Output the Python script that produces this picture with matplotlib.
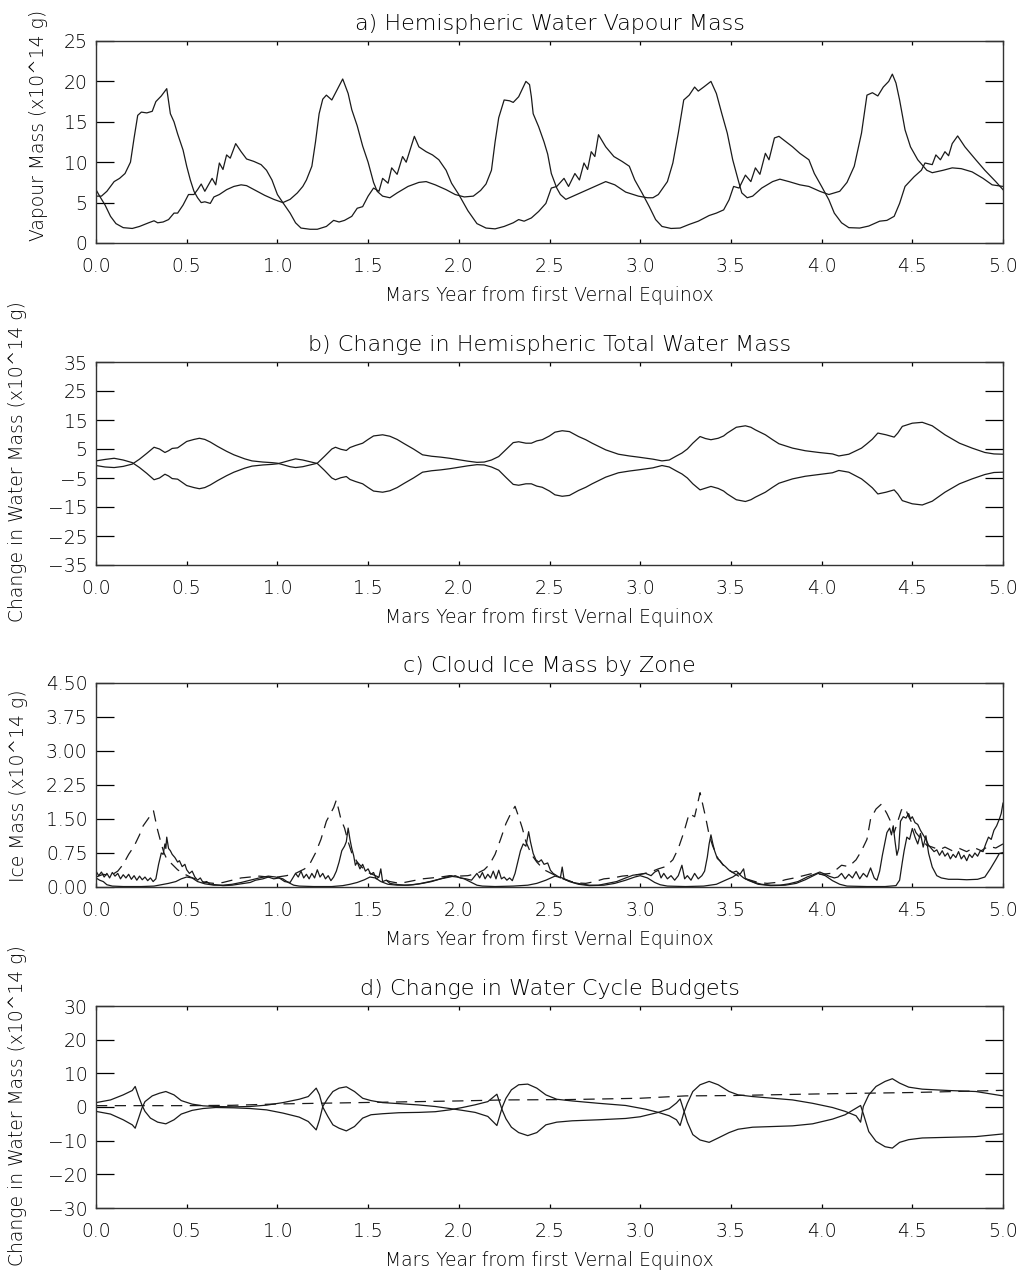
import numpy as np
import matplotlib.pyplot as plt

# ---- panel a: hemispheric water vapour mass (x10^14 g)
a_north_t = [0.00, 0.03, 0.06, 0.10, 0.13, 0.16, 0.19, 0.21, 0.23, 0.25, 0.28, 0.31, 0.33, 0.36, 0.39,
             0.41, 0.43, 0.45, 0.48, 0.50, 0.52, 0.54, 0.56, 0.58, 0.60, 0.63, 0.65, 0.68, 0.72, 0.76,
             0.80, 0.83, 0.88, 0.93, 0.98, 1.03, 1.07, 1.11, 1.14, 1.16, 1.19, 1.21, 1.23, 1.25, 1.27,
             1.30, 1.33, 1.36, 1.39, 1.41, 1.44, 1.47, 1.50, 1.53, 1.55, 1.58, 1.62, 1.66, 1.72, 1.78,
             1.82, 1.87, 1.93, 1.98, 2.03, 2.08, 2.12, 2.15, 2.18, 2.20, 2.22, 2.25, 2.28, 2.30, 2.33,
             2.37, 2.39, 2.40, 2.41, 2.44, 2.47, 2.49, 2.51, 2.54, 2.56, 2.59, 2.63, 2.68, 2.75, 2.81,
             2.86, 2.92, 2.99, 3.04, 3.07, 3.10, 3.15, 3.18, 3.21, 3.24, 3.27, 3.30, 3.32, 3.35, 3.39,
             3.42, 3.45, 3.48, 3.51, 3.54, 3.56, 3.59, 3.62, 3.67, 3.73, 3.77, 3.82, 3.88, 3.93, 3.99,
             4.04, 4.10, 4.14, 4.18, 4.22, 4.25, 4.28, 4.31, 4.34, 4.37, 4.39, 4.41, 4.43, 4.46, 4.49,
             4.53, 4.58, 4.61, 4.67, 4.72, 4.77, 4.83, 4.89, 4.94, 5.00]
a_north_v = [5.8, 5.8, 6.4, 7.6, 8.0, 8.6, 10.0, 13.0, 15.8, 16.2, 16.1, 16.3, 17.5, 18.2, 19.1,
             16.0, 15.0, 13.5, 11.5, 9.5, 7.8, 6.4, 5.6, 5.0, 5.1, 4.9, 5.7, 6.0, 6.6, 7.0,
             7.2, 7.1, 6.5, 5.9, 5.4, 5.0, 5.4, 6.2, 7.0, 7.8, 9.5, 12.5, 16.0, 17.8, 18.3,
             17.7, 19.0, 20.3, 18.5, 16.5, 14.5, 12.0, 10.0, 7.5, 6.4, 5.8, 5.6, 6.2, 7.0, 7.5,
             7.6, 7.2, 6.6, 6.0, 5.7, 5.8, 6.5, 7.3, 9.0, 12.5, 15.5, 17.7, 17.6, 17.4, 18.1,
             20.0, 19.6, 18.1, 16.0, 14.4, 12.5, 11.0, 8.6, 6.8, 6.0, 5.4, 5.8, 6.3, 7.0, 7.6,
             7.2, 6.3, 5.8, 5.6, 5.6, 6.0, 7.6, 9.9, 13.6, 17.7, 18.3, 19.3, 18.8, 19.3, 20.0,
             18.5, 16.0, 13.6, 10.3, 7.8, 6.2, 5.6, 5.8, 6.8, 7.6, 7.9, 7.6, 7.2, 7.0, 6.4,
             6.0, 6.4, 7.5, 9.5, 13.6, 18.3, 18.6, 18.2, 19.3, 20.0, 20.9, 19.8, 17.7, 14.0, 11.9,
             10.3, 9.0, 8.7, 9.0, 9.3, 9.2, 8.8, 8.0, 7.2, 7.0]

a_south_t = [0.00, 0.02, 0.05, 0.08, 0.11, 0.15, 0.20, 0.24, 0.29, 0.32, 0.34, 0.37, 0.40, 0.43, 0.45,
             0.48, 0.51, 0.54, 0.56, 0.58, 0.60, 0.64, 0.66, 0.68, 0.70, 0.72, 0.74, 0.77, 0.80, 0.83,
             0.87, 0.91, 0.94, 0.97, 1.00, 1.03, 1.07, 1.10, 1.13, 1.18, 1.22, 1.27, 1.31, 1.34, 1.37,
             1.41, 1.44, 1.47, 1.50, 1.53, 1.56, 1.58, 1.61, 1.63, 1.66, 1.69, 1.71, 1.755, 1.78, 1.82,
             1.855, 1.89, 1.93, 1.96, 2.00, 2.05, 2.10, 2.15, 2.20, 2.25, 2.30, 2.33, 2.36, 2.40, 2.44,
             2.48, 2.51, 2.54, 2.58, 2.605, 2.64, 2.665, 2.69, 2.71, 2.73, 2.75, 2.77, 2.81, 2.855, 2.90,
             2.94, 2.97, 3.01, 3.05, 3.085, 3.12, 3.17, 3.22, 3.27, 3.32, 3.38, 3.42, 3.46, 3.49, 3.515,
             3.545, 3.58, 3.61, 3.635, 3.66, 3.69, 3.71, 3.74, 3.765, 3.80, 3.84, 3.88, 3.93, 3.96, 4.00,
             4.04, 4.07, 4.11, 4.15, 4.21, 4.26, 4.32, 4.36, 4.40, 4.43, 4.46, 4.51, 4.55, 4.57, 4.61,
             4.63, 4.655, 4.68, 4.70, 4.72, 4.75, 4.79, 4.85, 4.90, 4.96, 5.00]
a_south_v = [6.6, 5.8, 4.7, 3.3, 2.4, 1.9, 1.8, 2.05, 2.5, 2.75, 2.5, 2.6, 2.9, 3.7, 3.7,
             4.7, 6.0, 6.0, 6.6, 7.3, 6.4, 8.0, 7.2, 9.9, 9.1, 10.9, 10.5, 12.3, 11.3, 10.4,
             10.1, 9.7, 9.0, 7.8, 6.0, 5.0, 3.7, 2.5, 1.85, 1.7, 1.7, 2.05, 2.8, 2.6, 2.8,
             3.3, 4.3, 4.5, 5.8, 6.8, 6.4, 8.0, 7.4, 9.3, 8.5, 10.7, 10.0, 13.2, 11.9, 11.3,
             10.9, 10.3, 9.0, 7.4, 6.0, 4.0, 2.4, 1.85, 1.75, 2.05, 2.5, 2.9, 2.7, 3.1, 3.9,
             4.9, 6.8, 7.0, 8.0, 7.0, 8.6, 7.8, 9.9, 9.1, 11.3, 10.7, 13.4, 11.9, 10.7, 10.1,
             9.5, 7.8, 6.2, 4.5, 2.9, 2.05, 1.8, 1.85, 2.3, 2.7, 3.4, 3.7, 4.1, 5.35, 7.0,
             6.8, 8.4, 7.6, 9.3, 8.5, 11.1, 10.3, 13.0, 13.2, 12.6, 11.9, 11.1, 10.3, 8.6, 7.0,
             5.35, 3.7, 2.5, 1.9, 1.85, 2.1, 2.7, 2.8, 3.3, 4.9, 7.0, 8.2, 9.0, 9.9, 9.7,
             10.9, 10.3, 11.3, 10.8, 12.3, 13.25, 11.9, 10.3, 9.0, 7.6, 6.6]

# ---- panel b: change in hemispheric total water mass
b_t = [0.00, 0.05, 0.10, 0.15, 0.20, 0.24, 0.28, 0.32, 0.35, 0.38, 0.40, 0.42, 0.45, 0.50, 0.54,
       0.57, 0.60, 0.63, 0.67, 0.72, 0.76, 0.82, 0.86, 0.92, 0.97, 1.00, 1.03, 1.07, 1.10, 1.14,
       1.18, 1.22, 1.26, 1.30, 1.32, 1.35, 1.38, 1.40, 1.43, 1.47, 1.50, 1.53, 1.58, 1.62, 1.66,
       1.70, 1.75, 1.80, 1.85, 1.90, 1.95, 2.00, 2.05, 2.10, 2.14, 2.18, 2.22, 2.26, 2.30, 2.33,
       2.37, 2.40, 2.43, 2.46, 2.50, 2.53, 2.57, 2.61, 2.66, 2.70, 2.735, 2.81, 2.88, 2.94, 2.99,
       3.07, 3.12, 3.16, 3.20, 3.23, 3.26, 3.29, 3.33, 3.36, 3.39, 3.43, 3.46, 3.48, 3.53, 3.58,
       3.61, 3.635, 3.69, 3.73, 3.765, 3.84, 3.91, 3.985, 4.06, 4.095, 4.15, 4.22, 4.25, 4.28, 4.31,
       4.355, 4.40, 4.42, 4.445, 4.50, 4.555, 4.61, 4.68, 4.76, 4.83, 4.90, 4.95, 5.00]
b_north = [-0.7, -1.2, -1.4, -1.0, -0.2, 1.5, 3.5, 5.6, 5.0, 3.8, 4.4, 5.2, 5.4, 7.6, 8.3,
           8.7, 8.3, 7.4, 5.9, 4.2, 3.0, 1.6, 0.9, 0.5, 0.3, 0.1, -0.4, -1.1, -1.4, -1.1,
           -0.5, 0.1, 2.5, 5.0, 5.6, 4.9, 4.5, 5.5, 6.2, 7.0, 8.3, 9.5, 9.9, 9.4, 8.3,
           6.8, 5.0, 3.0, 2.5, 2.2, 1.8, 1.3, 0.8, 0.4, 0.5, 1.2, 2.4, 4.8, 7.2, 7.5,
           7.0, 7.0, 7.8, 8.2, 9.5, 10.8, 11.3, 11.0, 9.3, 8.2, 7.0, 4.7, 3.2, 2.6, 2.2,
           1.5, 0.9, 1.2, 2.6, 3.6, 5.0, 7.0, 9.3, 8.6, 8.2, 8.7, 9.5, 10.5, 12.5, 13.0,
           12.5, 11.6, 9.9, 8.2, 6.8, 5.3, 4.4, 3.8, 3.3, 2.6, 3.2, 5.3, 6.8, 8.4, 10.5,
           9.9, 9.1, 10.5, 12.8, 13.9, 14.2, 13.0, 9.9, 7.0, 5.3, 3.8, 3.3, 3.2]
b_south = [0.9, 1.4, 1.8, 1.2, 0.3, -1.4, -3.4, -5.6, -5.0, -3.7, -4.3, -5.2, -5.4, -7.6, -8.3,
           -8.7, -8.3, -7.4, -5.9, -4.2, -3.0, -1.6, -0.9, -0.5, -0.3, -0.1, 0.4, 1.1, 1.6, 1.2,
           0.6, 0.0, -2.4, -5.0, -5.6, -4.9, -4.5, -5.5, -6.2, -7.0, -8.3, -9.5, -9.9, -9.4, -8.3,
           -6.8, -5.0, -3.0, -2.5, -2.2, -1.8, -1.3, -0.8, -0.4, -0.5, -1.2, -2.3, -4.8, -7.2, -7.5,
           -7.0, -7.0, -7.8, -8.2, -9.5, -10.8, -11.3, -11.0, -9.3, -8.2, -7.0, -4.7, -3.2, -2.6, -2.2,
           -1.5, -0.7, -1.2, -2.6, -3.6, -5.0, -7.0, -9.1, -8.5, -7.9, -8.6, -9.5, -10.5, -12.5, -13.1,
           -12.5, -11.6, -9.9, -8.2, -6.8, -5.3, -4.4, -3.8, -3.2, -2.4, -3.0, -5.3, -6.8, -8.4, -10.5,
           -9.9, -9.1, -10.5, -12.8, -13.9, -14.3, -13.0, -9.9, -7.0, -5.3, -3.8, -3.1, -3.0]

# ---- panel c: cloud ice mass by zone
c1_t = [0.00, 0.015, 0.03, 0.045, 0.06, 0.075, 0.09, 0.105, 0.12, 0.135, 0.15, 0.165, 0.18, 0.195, 0.21,
        0.225, 0.24, 0.255, 0.27, 0.285, 0.30, 0.315, 0.33, 0.345, 0.36, 0.37, 0.38, 0.385, 0.39, 0.40,
        0.41, 0.42, 0.435, 0.45, 0.46, 0.475, 0.49, 0.50, 0.515, 0.53, 0.545, 0.56, 0.575, 0.59, 0.61,
        0.63, 0.66, 0.70, 0.75, 0.80, 0.85, 0.88, 0.92, 0.95, 0.98, 1.01, 1.04, 1.07,
        1.10, 1.115, 1.13, 1.145, 1.16, 1.175, 1.19, 1.205, 1.22, 1.235, 1.25, 1.265, 1.28, 1.295, 1.31,
        1.325, 1.34, 1.355, 1.37, 1.38, 1.39, 1.40, 1.41, 1.42, 1.43, 1.44, 1.455, 1.47, 1.485, 1.50,
        1.515, 1.53, 1.545, 1.56, 1.57, 1.58, 1.60, 1.62, 1.65, 1.70, 1.75, 1.80, 1.85, 1.90, 1.95,
        1.98, 2.01, 2.04, 2.07,
        2.10, 2.115, 2.13, 2.145, 2.16, 2.175, 2.19, 2.205, 2.22, 2.235, 2.25, 2.265, 2.28, 2.295, 2.31,
        2.325, 2.34, 2.355, 2.37, 2.385, 2.395, 2.41, 2.425, 2.44, 2.455, 2.47, 2.49, 2.505, 2.52, 2.54,
        2.56, 2.57, 2.58, 2.60, 2.63, 2.67, 2.72, 2.77, 2.82, 2.87, 2.92, 2.96, 3.00, 3.03, 3.06,
        3.08, 3.10, 3.115, 3.13, 3.15, 3.17, 3.19, 3.21, 3.23, 3.245, 3.26, 3.28, 3.30, 3.32, 3.34,
        3.355, 3.37, 3.38, 3.39, 3.40, 3.41, 3.425, 3.44, 3.455, 3.47, 3.49, 3.51, 3.53, 3.55, 3.57,
        3.58, 3.60, 3.63, 3.67, 3.72, 3.77, 3.82, 3.87, 3.92, 3.96, 3.99, 4.02, 4.04, 4.07,
        4.09, 4.11, 4.13, 4.15, 4.17, 4.19, 4.21, 4.23, 4.25, 4.27, 4.29, 4.305, 4.32, 4.335, 4.35,
        4.36, 4.375, 4.385, 4.395, 4.405, 4.415, 4.425, 4.435, 4.45, 4.465, 4.48, 4.49, 4.50, 4.515, 4.53,
        4.545, 4.56, 4.575, 4.59, 4.605, 4.62, 4.635, 4.65, 4.665, 4.68, 4.695, 4.71, 4.725, 4.74, 4.755,
        4.77, 4.785, 4.80, 4.815, 4.83, 4.845, 4.86, 4.875, 4.89, 4.905, 4.92, 4.935, 4.95, 4.965, 4.98,
        4.99, 5.00]
c1_v = [0.35, 0.25, 0.33, 0.22, 0.30, 0.20, 0.32, 0.24, 0.30, 0.18, 0.27, 0.20, 0.28, 0.17, 0.25,
        0.15, 0.24, 0.16, 0.22, 0.14, 0.20, 0.12, 0.18, 0.50, 0.75, 0.72, 0.95, 0.85, 1.10, 0.85,
        0.80, 0.72, 0.65, 0.55, 0.58, 0.45, 0.50, 0.38, 0.30, 0.35, 0.22, 0.15, 0.20, 0.10, 0.12,
        0.06, 0.05, 0.03, 0.04, 0.07, 0.10, 0.15, 0.18, 0.22, 0.18, 0.20, 0.12, 0.10,
        0.30, 0.22, 0.35, 0.20, 0.28, 0.18, 0.30, 0.20, 0.38, 0.22, 0.30, 0.18, 0.25, 0.14, 0.22,
        0.35, 0.55, 0.80, 0.90, 1.00, 1.30, 1.05, 0.85, 0.70, 0.48, 0.55, 0.40, 0.50, 0.35, 0.40,
        0.28, 0.32, 0.18, 0.22, 0.40, 0.12, 0.15, 0.08, 0.06, 0.04, 0.05, 0.08, 0.12, 0.18, 0.22,
        0.25, 0.20, 0.18, 0.15,
        0.30, 0.20, 0.32, 0.18, 0.28, 0.20, 0.35, 0.18, 0.37, 0.18, 0.22, 0.15, 0.20, 0.14, 0.30,
        0.55, 0.80, 0.95, 0.90, 1.22, 1.00, 0.74, 0.60, 0.55, 0.60, 0.50, 0.53, 0.37, 0.30, 0.25,
        0.20, 0.44, 0.18, 0.15, 0.10, 0.07, 0.04, 0.04, 0.08, 0.12, 0.20, 0.26, 0.28, 0.30, 0.25,
        0.33, 0.37, 0.20, 0.30, 0.18, 0.25, 0.15, 0.25, 0.48, 0.18, 0.25, 0.15, 0.30, 0.18, 0.25,
        0.35, 0.66, 0.95, 1.15, 0.96, 0.80, 0.63, 0.58, 0.50, 0.45, 0.37, 0.32, 0.35, 0.28, 0.40,
        0.18, 0.15, 0.10, 0.06, 0.04, 0.04, 0.07, 0.12, 0.22, 0.28, 0.33, 0.28, 0.24, 0.20,
        0.22, 0.30, 0.18, 0.28, 0.20, 0.34, 0.18, 0.30, 0.22, 0.42, 0.20, 0.15, 0.35, 0.70, 1.00,
        1.20, 1.30, 1.15, 1.35, 1.00, 0.70, 0.85, 1.45, 1.55, 1.52, 1.62, 1.50, 1.55, 1.42, 1.38,
        1.25, 1.15, 1.05, 0.92, 0.85, 0.78, 0.82, 0.70, 0.80, 0.68, 0.75, 0.62, 0.72, 0.65, 0.78,
        0.62, 0.70, 0.58, 0.72, 0.65, 0.75, 0.68, 0.80, 0.78, 0.95, 1.10, 1.05, 1.25, 1.35, 1.50,
        1.62, 1.85]

c2_t = [0.00, 0.02, 0.04, 0.06, 0.09, 0.15, 0.25, 0.32, 0.36, 0.40, 0.44, 0.47, 0.50, 0.53, 0.56,
        0.60, 0.65, 0.70, 0.75, 0.80, 0.85, 0.90, 0.95, 0.99, 1.03, 1.06, 1.09, 1.12, 1.20, 1.30,
        1.36, 1.40, 1.44, 1.48, 1.51, 1.54, 1.57, 1.61, 1.66, 1.72, 1.78, 1.84, 1.90, 1.95, 1.99,
        2.03, 2.07, 2.10, 2.13, 2.20, 2.30, 2.38, 2.43, 2.48, 2.53, 2.57, 2.61, 2.66, 2.72, 2.80,
        2.86, 2.92, 2.97, 3.00, 3.04, 3.08, 3.11, 3.15, 3.25, 3.35, 3.42, 3.47, 3.51, 3.54, 3.57,
        3.60, 3.65, 3.72, 3.80, 3.86, 3.91, 3.95, 3.98, 4.02, 4.06, 4.10, 4.14, 4.25, 4.35, 4.41,
        4.43, 4.445, 4.455, 4.47, 4.485, 4.50, 4.515, 4.53, 4.545, 4.56, 4.575, 4.59, 4.61, 4.635, 4.66,
        4.70, 4.75, 4.80, 4.86, 4.90, 4.93, 4.96, 4.98, 5.00]
c2_v = [0.20, 0.15, 0.12, 0.05, 0.02, 0.01, 0.01, 0.02, 0.05, 0.08, 0.12, 0.18, 0.22, 0.20, 0.12,
        0.07, 0.04, 0.04, 0.06, 0.10, 0.15, 0.20, 0.24, 0.22, 0.18, 0.10, 0.04, 0.02, 0.01, 0.01,
        0.03, 0.06, 0.10, 0.16, 0.22, 0.20, 0.12, 0.06, 0.04, 0.04, 0.07, 0.12, 0.18, 0.24, 0.22,
        0.18, 0.10, 0.04, 0.02, 0.01, 0.02, 0.04, 0.08, 0.15, 0.24, 0.20, 0.12, 0.06, 0.03, 0.04,
        0.08, 0.15, 0.22, 0.25, 0.20, 0.10, 0.05, 0.02, 0.01, 0.02, 0.06, 0.15, 0.22, 0.30, 0.20,
        0.14, 0.06, 0.03, 0.04, 0.08, 0.16, 0.24, 0.30, 0.25, 0.14, 0.06, 0.02, 0.01, 0.01, 0.03,
        0.15, 0.55, 0.80, 1.10, 1.05, 1.29, 1.10, 0.95, 1.18, 0.88, 1.13, 0.74, 0.44, 0.25, 0.20,
        0.17, 0.17, 0.16, 0.17, 0.22, 0.40, 0.60, 0.74, 0.76]

c3_t = [0.00, 0.04, 0.08, 0.12, 0.15, 0.18, 0.21, 0.24, 0.26, 0.29, 0.317, 0.34, 0.36, 0.375, 0.39,
        0.42, 0.45, 0.48, 0.52, 0.56, 0.60, 0.65, 0.70, 0.75, 0.80, 0.85, 0.90, 0.95, 1.00, 1.05,
        1.10, 1.15, 1.18, 1.21, 1.24, 1.27, 1.29, 1.31, 1.325, 1.35, 1.37, 1.39, 1.41, 1.44, 1.47,
        1.50, 1.54, 1.58, 1.62, 1.66, 1.70, 1.75, 1.80, 1.85, 1.90, 1.95, 2.00, 2.05, 2.10, 2.14,
        2.17, 2.20, 2.23, 2.26, 2.29, 2.31, 2.33, 2.35, 2.37, 2.40, 2.43, 2.47, 2.51, 2.55, 2.60,
        2.65, 2.70, 2.75, 2.80, 2.85, 2.90, 2.95, 3.00, 3.05, 3.10, 3.14, 3.18, 3.21, 3.24, 3.27,
        3.30, 3.33, 3.36, 3.38, 3.40, 3.43, 3.47, 3.51, 3.55, 3.60, 3.65, 3.70, 3.75, 3.80, 3.85,
        3.90, 3.95, 4.00, 4.05, 4.08, 4.11, 4.15, 4.19, 4.22, 4.25, 4.27, 4.30, 4.33, 4.36, 4.38,
        4.40, 4.42, 4.44, 4.46, 4.48, 4.50, 4.52, 4.55, 4.58, 4.61, 4.65, 4.68, 4.72, 4.76, 4.80,
        4.84, 4.88, 4.92, 4.96, 5.00]
c3_v = [0.22, 0.28, 0.25, 0.35, 0.50, 0.72, 0.90, 1.15, 1.35, 1.52, 1.68, 1.25, 0.95, 0.75, 0.62,
        0.50, 0.38, 0.30, 0.22, 0.16, 0.10, 0.08, 0.10, 0.15, 0.20, 0.22, 0.24, 0.22, 0.22, 0.25,
        0.30, 0.40, 0.52, 0.75, 1.05, 1.45, 1.60, 1.75, 1.92, 1.50, 1.30, 1.00, 0.75, 0.55, 0.42,
        0.32, 0.25, 0.18, 0.12, 0.09, 0.10, 0.14, 0.18, 0.20, 0.22, 0.25, 0.24, 0.25, 0.30, 0.38,
        0.50, 0.72, 1.05, 1.40, 1.65, 1.78, 1.55, 1.30, 1.00, 0.72, 0.55, 0.38, 0.30, 0.22, 0.14,
        0.09, 0.08, 0.12, 0.18, 0.20, 0.24, 0.26, 0.28, 0.32, 0.40, 0.45, 0.60, 0.85, 1.20, 1.62,
        1.55, 2.08, 1.55, 1.15, 0.90, 0.62, 0.42, 0.32, 0.22, 0.16, 0.10, 0.08, 0.10, 0.16, 0.20,
        0.25, 0.30, 0.28, 0.30, 0.38, 0.48, 0.45, 0.60, 0.80, 1.05, 1.50, 1.72, 1.83, 1.62, 1.45,
        1.20, 1.45, 1.70, 1.75, 1.55, 1.40, 1.20, 1.05, 0.92, 0.88, 0.82, 0.88, 0.80, 0.85, 0.78,
        0.87, 0.80, 0.90, 0.86, 0.95]

# ---- panel d: change in water cycle budgets
d_t1 = [0.00, 0.08, 0.15, 0.20, 0.216, 0.235, 0.253, 0.27, 0.30, 0.34, 0.385, 0.43, 0.47, 0.53, 0.59,
        0.66, 0.76, 0.85, 0.94, 1.03, 1.12, 1.17, 1.214, 1.232, 1.25, 1.278, 1.306, 1.34, 1.38, 1.425,
        1.47, 1.516, 1.58, 1.67, 1.78, 1.87, 1.95, 2.02, 2.09, 2.16, 2.21, 2.24, 2.26, 2.29, 2.33,
        2.38, 2.43, 2.48, 2.54, 2.625, 2.77, 2.92, 3.03, 3.10, 3.16, 3.20, 3.22, 3.24, 3.26, 3.29,
        3.33, 3.38, 3.43, 3.49, 3.54, 3.62, 3.73, 3.84, 3.95, 4.06, 4.13, 4.19, 4.215, 4.23, 4.26,
        4.30, 4.35, 4.39, 4.43, 4.48, 4.555, 4.70, 4.85, 5.00]
d_v1 = [1.3, 2.1, 3.6, 4.9, 6.1, 3.1, 0.6, -1.3, -3.3, -4.5, -5.0, -3.8, -2.1, -1.0, -0.45,
        -0.15, -0.25, -0.45, -0.85, -1.8, -3.0, -4.3, -6.8, -3.8, 0.15, 2.6, 4.6, 5.6, 6.0, 4.6,
        2.6, 1.9, 1.3, 1.0, 0.6, 0.15, -0.45, -1.0, -1.6, -2.8, -5.5, 0.0, 2.6, 5.1, 6.6,
        6.8, 5.6, 3.6, 2.3, 1.8, 1.1, 0.45, -0.65, -1.6, -2.6, -3.8, -5.5, -1.8, 1.1, 4.6,
        6.6, 7.6, 6.6, 4.6, 3.6, 3.1, 2.6, 2.1, 1.1, -0.15, -1.3, -2.6, -4.5, 0.15, 3.6,
        6.1, 7.6, 8.4, 7.1, 5.9, 5.3, 4.9, 4.6, 3.3]

d_t2 = [0.00, 0.08, 0.15, 0.20, 0.216, 0.235, 0.253, 0.27, 0.31, 0.35, 0.385, 0.43, 0.47, 0.53, 0.59,
        0.66, 0.76, 0.85, 0.94, 1.03, 1.12, 1.17, 1.214, 1.232, 1.25, 1.278, 1.306, 1.34, 1.38, 1.425,
        1.47, 1.516, 1.58, 1.67, 1.78, 1.87, 1.95, 2.02, 2.09, 2.16, 2.21, 2.24, 2.26, 2.29, 2.33,
        2.38, 2.43, 2.48, 2.54, 2.625, 2.77, 2.92, 3.00, 3.10, 3.16, 3.20, 3.22, 3.24, 3.26, 3.29,
        3.33, 3.38, 3.43, 3.49, 3.54, 3.62, 3.73, 3.84, 3.95, 4.06, 4.13, 4.17, 4.215, 4.23, 4.26,
        4.30, 4.35, 4.39, 4.43, 4.48, 4.555, 4.70, 4.85, 5.00]
d_v2 = [-1.3, -2.1, -3.8, -5.3, -6.3, -3.3, -0.35, 1.6, 3.3, 4.1, 4.6, 3.6, 1.9, 0.85, 0.35,
        0.15, 0.05, 0.15, 0.55, 1.3, 2.3, 3.1, 5.6, 3.6, 0.0, -2.8, -5.3, -6.3, -7.1, -5.8,
        -3.3, -2.3, -2.0, -1.7, -1.6, -1.4, -0.85, -0.15, 0.65, 1.6, 3.8, -1.0, -3.5, -6.0, -7.6,
        -8.5, -7.6, -5.3, -4.5, -4.1, -3.8, -3.4, -2.9, -1.6, -0.5, 1.2, 2.4, -1.0, -4.5, -8.2,
        -9.8, -10.5, -9.2, -7.6, -6.6, -6.0, -5.8, -5.6, -5.0, -3.6, -2.3, -1.0, 0.45, -2.0, -7.3,
        -10.2, -11.8, -12.2, -10.5, -9.7, -9.2, -9.0, -8.8, -8.0]

d_t3 = [0.0, 0.5, 0.75, 1.0, 1.5, 2.0, 2.25, 2.6, 3.0, 3.25, 3.5, 4.0, 4.5, 5.0]
d_v3 = [0.4, 0.4, 0.5, 0.9, 1.35, 1.8, 2.1, 2.2, 2.6, 3.3, 3.4, 3.9, 4.3, 4.95]

x_ticks = [0.0, 0.5, 1.0, 1.5, 2.0, 2.5, 3.0, 3.5, 4.0, 4.5, 5.0]
xlab = 'Mars Year from first Vernal Equinox'

plt.rcParams['font.family'] = 'DejaVu Sans'
plt.rcParams['font.weight'] = 'light'

fig = plt.figure(figsize=(10.25, 12.84), dpi=100)
W, H = 1025, 1284

def box(top, bottom):
    return [96 / W, 1 - bottom / H, 907 / W, (bottom - top) / H]

lc = '#1a1a1a'
lw = 0.9
dash = (9, 6)

def style(ax, yticks, ylabs, ylim, title):
    ax.set_xlim(0, 5)
    ax.set_ylim(*ylim)
    ax.set_xticks(x_ticks)
    ax.set_xticklabels(['%.1f' % v for v in x_ticks])
    ax.set_yticks(yticks)
    ax.set_yticklabels(ylabs)
    ax.tick_params(axis='x', direction='in', length=3, width=0.9, top=True, pad=10, labelsize=13.5)
    ax.tick_params(axis='y', direction='in', length=13, width=0.9, right=True, pad=6, labelsize=13.5)
    for s in ax.spines.values():
        s.set_linewidth(1.0)
        s.set_color('#333333')
    ax.set_title(title, fontsize=16, pad=8, fontweight='light')
    ax.set_xlabel(xlab, fontsize=13.5, labelpad=7, fontweight='light')

# a)
ax = fig.add_axes(box(41, 243))
ax.plot(a_north_t, a_north_v, color=lc, lw=lw)
ax.plot(a_south_t, a_south_v, color=lc, lw=lw)
style(ax, [0, 5, 10, 15, 20, 25], ['0', '5', '10', '15', '20', '25'], (0, 25),
      'a) Hemispheric Water Vapour Mass')
fig.text(39 / W, 1 - 125 / H, 'Vapour Mass (x10^14 g)', rotation=90, ha='center', va='center',
         fontsize=13.5, fontweight='light')

# b)
ax = fig.add_axes(box(362, 565))
ax.plot(b_t, b_north, color=lc, lw=lw)
ax.plot(b_t, b_south, color=lc, lw=lw)
bt = [-35, -25, -15, -5, 5, 15, 25, 35]
style(ax, bt, ['\u2212%d' % -v if v < 0 else '%d' % v for v in bt], (-35, 35),
      'b) Change in Hemispheric Total Water Mass')
fig.text(18 / W, 1 - 462 / H, 'Change in Water Mass (x10^14 g)', rotation=90, ha='center', va='center',
         fontsize=13.5, fontweight='light')

# c)
ax = fig.add_axes(box(683, 887))
ax.plot(c1_t, c1_v, color=lc, lw=lw)
ax.plot(c2_t, c2_v, color=lc, lw=lw)
ax.plot(c3_t, c3_v, color=lc, lw=lw, dashes=dash)
ct = [0.0, 0.75, 1.5, 2.25, 3.0, 3.75, 4.5]
style(ax, ct, ['%.2f' % v for v in ct], (0, 4.5), 'c) Cloud Ice Mass by Zone')
fig.text(19 / W, 1 - 786 / H, 'Ice Mass (x10^14 g)', rotation=90, ha='center', va='center',
         fontsize=13.5, fontweight='light')

# d)
ax = fig.add_axes(box(1006, 1208))
ax.plot(d_t1, d_v1, color=lc, lw=lw)
ax.plot(d_t2, d_v2, color=lc, lw=lw)
ax.plot(d_t3, d_v3, color=lc, lw=lw, dashes=dash)
dt = [-30, -20, -10, 0, 10, 20, 30]
style(ax, dt, ['\u2212%d' % -v if v < 0 else '%d' % v for v in dt], (-30, 30),
      'd) Change in Water Cycle Budgets')
fig.text(18 / W, 1 - 1106 / H, 'Change in Water Mass (x10^14 g)', rotation=90, ha='center', va='center',
         fontsize=13.5, fontweight='light')

fig.savefig('out.png', dpi=100)
